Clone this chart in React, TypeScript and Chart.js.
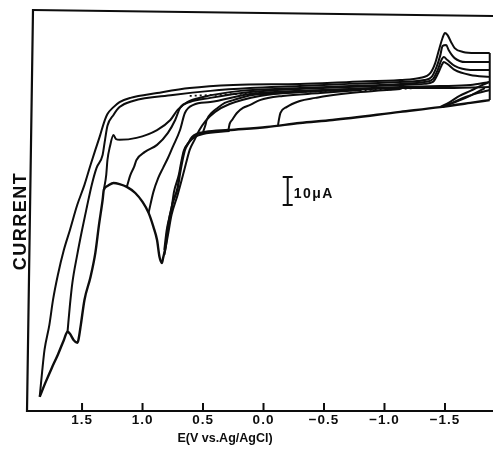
import React, { useEffect, useRef } from "react";
import { Chart, registerables } from "chart.js";

Chart.register(...registerables);

// Axis ranges: potential in V vs. Ag/AgCl (plotted positive to the left), current in µA (cathodic up)
const potentialMin = -1.897;
const potentialMax = 1.955;
const currentMin = -104;
const currentMax = 39.3;

const potentialTicks = [1.5, 1.0, 0.5, 0.0, -0.5, -1.0, -1.5];
const potentialTickLabels = ["1.5", "1.0", "0.5", "0.0", "−0.5", "−1.0", "−1.5"];

const xTitle = "E(V vs.Ag/AgCl)";
const yTitle = "CURRENT";

// 10 µA scale bar
const scaleBarLabel = "10μA";
const scaleBarPotential = -0.2;
const scaleBarStart = -30.4;
const scaleBarSpan = 10;

// Each trace: [E (V), i (µA)]
// Negative-going sweep after switching at +1.85 V
const sweepFrom185: [number, number][] = [
  [1.85, -98.9], [1.83, -90.0], [1.81, -82.1], [1.77, -73.2], [1.74, -64.3], [1.7, -55.4],
  [1.65, -46.4], [1.6, -39.3], [1.54, -30.4], [1.48, -23.2], [1.43, -16.1], [1.39, -10.7],
  [1.35, -5.4], [1.32, -1.1], [1.29, 2.1], [1.24, 4.6], [1.19, 6.4], [1.1, 7.9], [0.88, 9.6],
  [0.61, 11.4], [0.25, 12.5], [-0.3, 12.9], [-0.71, 13.6], [-1.13, 14.3], [-1.29, 15.0],
  [-1.38, 16.8], [-1.42, 20.4], [-1.45, 25.0], [-1.48, 29.3], [-1.5, 31.1], [-1.52, 30.4],
  [-1.55, 27.9], [-1.58, 25.7], [-1.65, 24.3], [-1.75, 23.9], [-1.87, 23.9],
];

// Negative-going sweep after switching at +1.62 V
const sweepFrom162: [number, number][] = [
  [1.62, -75.7], [1.6, -66.1], [1.58, -58.2], [1.54, -48.2], [1.5, -39.3], [1.46, -31.1],
  [1.42, -23.2], [1.38, -17.1], [1.33, -12.5], [1.31, -7.1], [1.29, -2.1], [1.24, 1.8],
  [1.19, 4.6], [1.08, 6.8], [0.75, 8.9], [0.44, 10.4], [0.11, 11.4], [-0.3, 12.1],
  [-0.71, 12.9], [-1.13, 13.6], [-1.33, 14.3], [-1.39, 15.4], [-1.43, 18.9], [-1.46, 22.9],
  [-1.48, 26.4], [-1.51, 26.8], [-1.53, 25.0], [-1.58, 22.1], [-1.67, 20.7], [-1.87, 20.7],
];

// Negative-going sweep after switching at +1.32 V
const sweepFrom132: [number, number][] = [
  [1.32, -25.0], [1.3, -19.6], [1.29, -14.3], [1.27, -9.6], [1.24, -5.4], [1.22, -6.8],
  [1.19, -7.1], [1.05, -6.4], [0.88, -3.6], [0.77, 0.0], [0.71, 3.6], [0.63, 6.4],
  [0.5, 8.2], [0.19, 10.4], [-0.3, 11.4], [-0.71, 12.1], [-1.13, 12.9], [-1.33, 13.6],
  [-1.4, 14.6], [-1.44, 17.9], [-1.47, 21.4], [-1.49, 22.5], [-1.52, 21.4], [-1.58, 19.3],
  [-1.71, 17.9], [-1.87, 17.9],
];

// Negative-going sweep after switching at +1.13 V
const sweepFrom113: [number, number][] = [
  [1.13, -23.9], [1.1, -19.6], [1.07, -16.8], [1.05, -14.3], [0.98, -11.4], [0.88, -8.9],
  [0.79, -4.6], [0.73, 0.0], [0.69, 4.3], [0.61, 6.4], [0.44, 7.9], [0.11, 10.0],
  [-0.3, 11.1], [-0.71, 11.8], [-1.13, 12.5], [-1.33, 12.9], [-1.4, 13.6], [-1.44, 16.4],
  [-1.47, 19.3], [-1.49, 20.7], [-1.52, 20.0], [-1.58, 17.9], [-1.71, 16.1], [-1.87, 15.4],
];

// Negative-going sweep after switching at +0.95 V
const sweepFrom095: [number, number][] = [
  [0.95, -33.2], [0.91, -25.7], [0.87, -20.7], [0.83, -17.1], [0.79, -13.6], [0.75, -9.6],
  [0.69, -3.6], [0.65, 2.5], [0.58, 5.4], [0.44, 6.4], [0.11, 9.3], [-0.3, 10.4],
  [-0.71, 11.1], [-1.13, 11.8], [-1.46, 12.1], [-1.71, 12.5], [-1.87, 13.6],
];

// Negative-going sweep after switching at +0.82 V
const sweepFrom082: [number, number][] = [
  [0.82, -48.2], [0.79, -41.1], [0.76, -33.9], [0.71, -26.8], [0.67, -20.4], [0.64, -15.4],
  [0.61, -10.7], [0.57, -7.1], [0.53, -3.6], [0.48, -0.4], [0.4, 2.9], [0.28, 5.7],
  [0.03, 8.6], [-0.3, 10.0], [-0.71, 10.7], [-1.13, 11.4], [-1.46, 11.4], [-1.87, 11.8],
];

// Negative-going sweeps after switching at +0.50, +0.29 and −0.12 V
const sweepFrom050: [number, number][] = [
  [0.5, -4.3], [0.48, -1.8], [0.47, 0.0], [0.43, 2.5], [0.38, 4.3], [0.32, 6.1], [0.25, 7.1],
  [0.09, 8.9], [-0.14, 9.6], [-0.47, 10.4], [-0.8, 11.1],
];
const sweepFrom029: [number, number][] = [
  [0.29, -3.6], [0.28, -1.4], [0.26, 0.0], [0.22, 2.5], [0.17, 4.3], [0.11, 5.4], [0.03, 7.1],
  [-0.16, 8.6], [-0.47, 9.6], [-0.8, 10.7],
];
const sweepFromM012: [number, number][] = [
  [-0.12, -1.8], [-0.13, 0.7], [-0.14, 2.5], [-0.19, 4.6], [-0.3, 6.8], [-0.43, 7.9],
  [-0.52, 8.6], [-0.8, 10.0], [-1.13, 11.1],
];

// Positive-going sweep from −1.87 V to +1.85 V
const anodicSweep: [number, number][] = [
  [-1.87, 7.1], [-1.71, 6.1], [-1.46, 4.6], [-1.13, 2.9], [-0.57, 0.0], [-0.3, -1.1],
  [-0.03, -2.5], [0.29, -3.6], [0.48, -4.3], [0.55, -5.0], [0.59, -6.1], [0.62, -8.2],
  [0.65, -10.7], [0.67, -14.3], [0.69, -18.9], [0.71, -24.3], [0.75, -29.6], [0.79, -38.2],
  [0.81, -45.4], [0.83, -49.3], [0.84, -51.1], [0.86, -48.9], [0.88, -42.9], [0.91, -38.2],
  [0.95, -33.2], [1.0, -29.3], [1.06, -26.1], [1.13, -23.9], [1.19, -22.9], [1.24, -22.5],
  [1.29, -23.6], [1.32, -25.0], [1.33, -28.6], [1.36, -37.5], [1.39, -47.5], [1.43, -56.1],
  [1.48, -64.3], [1.51, -73.2], [1.53, -78.6], [1.54, -79.6], [1.57, -78.6], [1.6, -76.4],
  [1.62, -75.7], [1.65, -78.6], [1.7, -83.9], [1.75, -88.6], [1.8, -93.6], [1.85, -98.9],
];

// Second positive-going trace along the steep rise near +0.8 V
const anodicSweep2: [number, number][] = [
  [0.82, -46.4], [0.8, -39.3], [0.76, -31.4], [0.74, -25.7], [0.7, -19.6], [0.68, -15.0],
  [0.66, -11.1], [0.62, -8.2], [0.57, -6.1], [0.5, -5.0], [0.28, -3.9],
];

// Current drop at the negative switching potential
const switchingEdge: [number, number][] = [[-1.87, 23.9], [-1.87, 7.1]];

// Re-oxidation waves after the negative switching potential
const reoxidation1: [number, number][] = [
  [-1.87, 13.6], [-1.79, 12.1], [-1.71, 10.4], [-1.62, 8.6], [-1.54, 6.4], [-1.46, 4.6],
];
const reoxidation2: [number, number][] = [
  [-1.87, 10.7], [-1.77, 9.6], [-1.67, 8.2], [-1.56, 6.1], [-1.48, 4.6],
];
const reoxidation3: [number, number][] = [
  [-1.83, 11.4], [-1.72, 8.9], [-1.61, 6.8], [-1.52, 5.4],
];

// Recorder pen noise along the overlapping background sweeps
const backgroundNoise: [number, number][] = [
  [0.61, 8.6], [0.03, 9.6], [-0.55, 10.4], [-1.13, 11.1], [-1.38, 11.8],
];

const cathodicTraces = [
  sweepFrom185, sweepFrom162, sweepFrom132, sweepFrom113, sweepFrom095, sweepFrom082,
  sweepFrom050, sweepFrom029, sweepFromM012, anodicSweep2,
  reoxidation1, reoxidation2, reoxidation3,
];

const FONT = "'Liberation Sans', Arial, Helvetica, sans-serif";
const INK = "#0d0d0d";

const toPoints = (t: [number, number][]) => t.map(([x, y]) => ({ x, y }));

const framePlugin = {
  id: "cvFrame",
  afterDraw(chart: any) {
    const { ctx, chartArea: a, scales } = chart;
    const xs = scales.x;
    const ys = scales.y;
    ctx.save();
    ctx.strokeStyle = INK;
    ctx.fillStyle = INK;
    ctx.lineCap = "square";

    // axes and top border
    ctx.lineWidth = 2.2;
    ctx.beginPath();
    ctx.moveTo(a.left + 6, a.top);
    ctx.lineTo(a.left, a.bottom);
    ctx.lineTo(a.right, a.bottom);
    ctx.stroke();
    ctx.lineWidth = 1.8;
    ctx.beginPath();
    ctx.moveTo(a.left + 6, a.top);
    ctx.lineTo(a.right, a.top + 6);
    ctx.stroke();

    // potential ticks (inward) and labels
    ctx.lineWidth = 2;
    ctx.font = `bold 13.5px ${FONT}`;
    (ctx as any).letterSpacing = "1px";
    ctx.textAlign = "center";
    ctx.textBaseline = "alphabetic";
    potentialTicks.forEach((v, i) => {
      const px = xs.getPixelForValue(v);
      ctx.beginPath();
      ctx.moveTo(px, a.bottom);
      ctx.lineTo(px, a.bottom - 7);
      ctx.stroke();
      ctx.fillText(potentialTickLabels[i], px, a.bottom + 13);
    });

    // axis titles
    (ctx as any).letterSpacing = "0px";
    ctx.font = `bold 12.5px ${FONT}`;
    ctx.fillText(xTitle, a.left + 198, a.bottom + 31);

    ctx.save();
    ctx.font = `bold 18px ${FONT}`;
    (ctx as any).letterSpacing = "1.5px";
    ctx.translate(a.left - 1, a.top + 211);
    ctx.rotate(-Math.PI / 2);
    ctx.fillText(yTitle, 0, 0);
    ctx.restore();

    // scale bar
    const bx = xs.getPixelForValue(scaleBarPotential);
    const by0 = ys.getPixelForValue(scaleBarStart);
    const by1 = ys.getPixelForValue(scaleBarStart + scaleBarSpan);
    ctx.lineWidth = 2;
    ctx.beginPath();
    ctx.moveTo(bx, by0);
    ctx.lineTo(bx, by1);
    ctx.moveTo(bx - 4, by0);
    ctx.lineTo(bx + 4, by0);
    ctx.moveTo(bx - 4, by1);
    ctx.lineTo(bx + 4, by1);
    ctx.stroke();
    ctx.font = `bold 14px ${FONT}`;
    (ctx as any).letterSpacing = "1.5px";
    ctx.textAlign = "left";
    ctx.fillText(scaleBarLabel, bx + 6, (by0 + by1) / 2 + 7);
    ctx.restore();
  },
};

export default function App() {
  const canvasRef = useRef<HTMLCanvasElement | null>(null);

  useEffect(() => {
    const canvas = canvasRef.current;
    if (!canvas) return;

    const datasets: any[] = cathodicTraces.map((t) => ({
      data: toPoints(t),
      borderColor: INK,
      borderWidth: 2,
      showLine: true,
      pointRadius: 0,
      cubicInterpolationMode: "monotone",
    }));
    datasets.push({
      data: toPoints(anodicSweep),
      borderColor: INK,
      borderWidth: 2.4,
      showLine: true,
      pointRadius: 0,
      cubicInterpolationMode: "monotone",
    });
    datasets.push({
      data: toPoints(switchingEdge),
      borderColor: INK,
      borderWidth: 2,
      showLine: true,
      pointRadius: 0,
      tension: 0,
    });
    datasets.push({
      data: toPoints(backgroundNoise),
      borderColor: INK,
      borderWidth: 1.8,
      borderDash: [2, 3],
      showLine: true,
      pointRadius: 0,
      cubicInterpolationMode: "monotone",
    });

    const chart = new Chart(canvas, {
      type: "scatter",
      data: { datasets },
      options: {
        animation: false,
        responsive: false,
        devicePixelRatio: 1,
        events: [],
        layout: { padding: { left: 27, top: 10, right: 0, bottom: 43 } },
        plugins: { legend: { display: false }, tooltip: { enabled: false } },
        scales: {
          x: { type: "linear", reverse: true, min: potentialMin, max: potentialMax, display: false },
          y: { type: "linear", min: currentMin, max: currentMax, display: false },
        },
      },
      plugins: [framePlugin],
    });

    return () => chart.destroy();
  }, []);

  return (
    <div style={{ position: "absolute", left: 0, top: 0, width: 493, height: 454, background: "#fff" }}>
      <canvas ref={canvasRef} width={493} height={454} style={{ display: "block" }} />
    </div>
  );
}
